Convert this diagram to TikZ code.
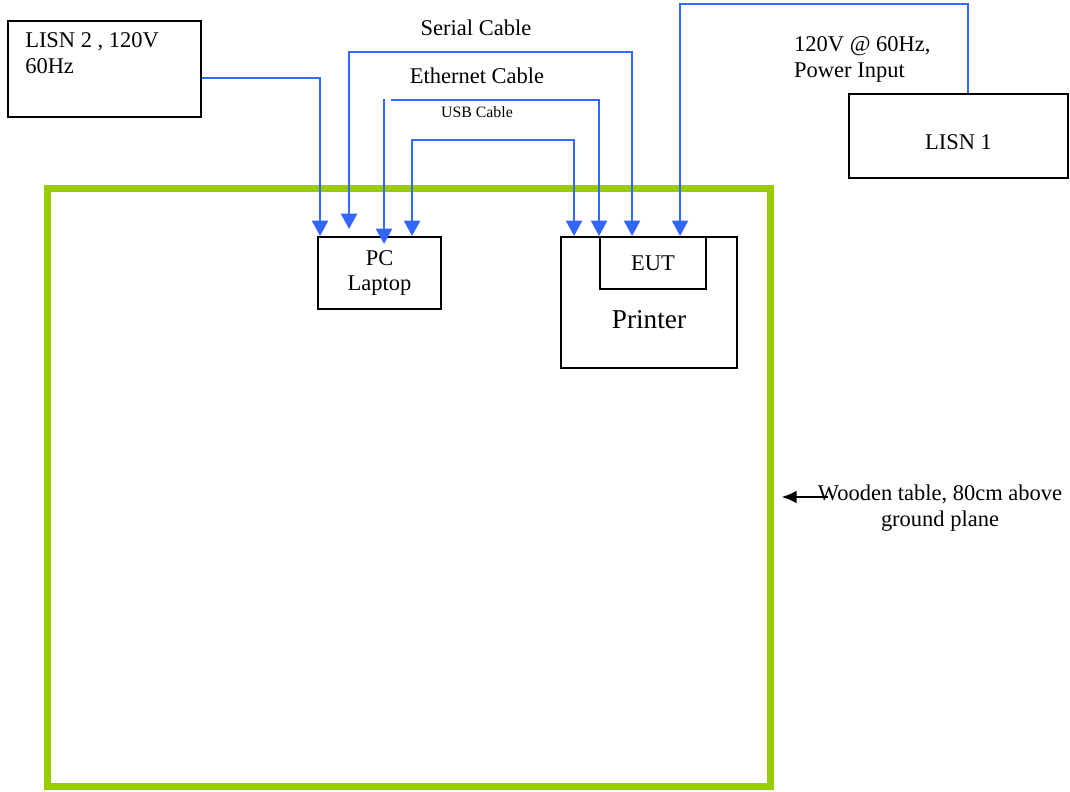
\documentclass[tikz,border=0pt]{standalone}
\usepackage{fontspec}
\setmainfont{Liberation Serif}
\usetikzlibrary{arrows.meta,positioning}
\definecolor{cableblue}{RGB}{51,102,255}
\definecolor{tablegreen}{RGB}{153,204,0}

\begin{document}
\begin{tikzpicture}[x=0.02cm, y=-0.02cm,
  font=\fontsize{12.8}{14.7}\selectfont,
  box/.style={rectangle, draw, line width=1.1pt, align=center},
  cable/.style={draw=cableblue, line width=1.5pt},
  arrow/.style={cable, -{Triangle[length=0.31cm, width=0.32cm]}},
  twoway/.style={cable, {Triangle[length=0.31cm, width=0.32cm]}-{Triangle[length=0.31cm, width=0.32cm]}},
  pointer/.style={line width=1.2pt, -{Latex[length=0.3cm, width=0.26cm]}}]

\useasboundingbox (0,0) rectangle (1070,791);

\node[draw=tablegreen, line width=0.14cm, minimum width=14.48cm, minimum height=11.98cm] (table) at (409,487.5) {};

\node[box, minimum width=3.86cm, minimum height=1.92cm,
  label={[anchor=north west, align=left, shift={(12,6)}]north west:LISN 2 , 120V\\60Hz}] (lisn_2) at (104.5,69) {};

\node[box, minimum width=2.46cm, minimum height=1.44cm] (pc) at (379.5,273) {PC\\Laptop};

\node[box, minimum width=3.52cm, minimum height=2.62cm] (printer) at (649,302.5) {};
\node[font=\fontsize{15.5}{18}\selectfont] (printer_lbl) at ([shift={(0,17)}]printer.center) {Printer};
\node[box, minimum width=2.12cm, minimum height=1.04cm, fill=white] (eut) at (653,263) {EUT};

\node[box, minimum width=4.38cm, minimum height=1.68cm, text height=0.54cm, text depth=0cm] (lisn_1) at (958.5,136) {LISN 1};

% Labels
\node (serial_lbl) at (476,28) {Serial Cable};
\node (ethernet_lbl) at (477,76) {Ethernet Cable};
\node[font=\fontsize{9}{11}\selectfont] (usb_lbl) at (477,112) {USB Cable};
\node[anchor=west, align=left] (power_lbl) at (788,59) {120V @ 60Hz,\\Power Input};
\node[align=center] (wood_lbl) at (940,508) {Wooden table, 80cm above\\ground plane};

% Cables
\draw[arrow] ([shift={(0,9)}]lisn_2.east) -| ([shift={(3,0)}]pc.north west);
\draw[twoway] ([shift={(32,-7)}]pc.north west) -- ++(0,-177) -| ([shift={(33,0)}]eut.north west);
\draw[arrow] ([shift={(67,-137)}]pc.north west) -- ([shift={(67,8)}]pc.north west);
\draw[arrow] ([shift={(-208,-136)}]eut.north west) -| (eut.north west);
\draw[twoway] ([shift={(95,0)}]pc.north west) -- ++(0,-96) -| ([shift={(14,0)}]printer.north west);
\draw[arrow, line width=1.2pt] ([shift={(9.5,0)}]lisn_1.north) -- ++(0,-89) -| ([shift={(81,0)}]eut.north west);

\draw[pointer] ([shift={(16,-11)}]wood_lbl.west) -- ++(-46,0);

\end{tikzpicture}
\end{document}
